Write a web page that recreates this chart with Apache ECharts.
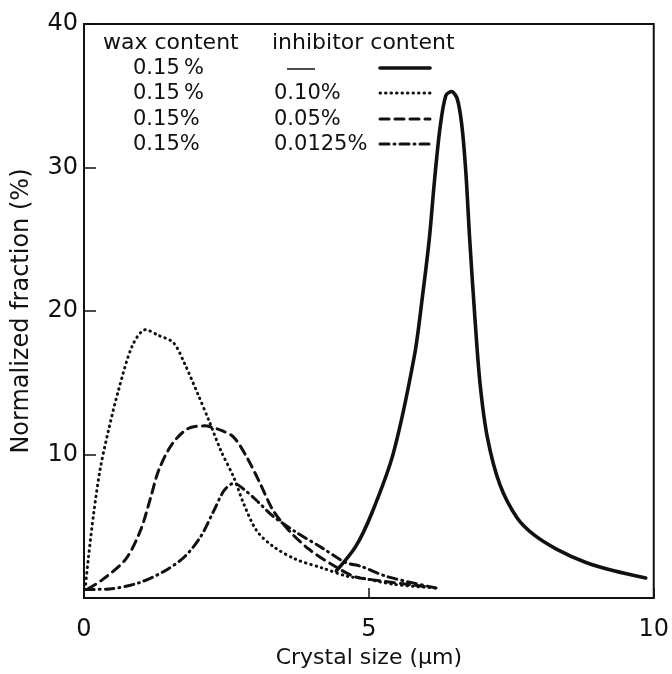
<!DOCTYPE html>
<html>
<head>
<meta charset="utf-8">
<script src="https://cdn.jsdelivr.net/npm/echarts@6/dist/echarts.min.js"></script>
<style>
html,body{margin:0;padding:0;background:#fff;}
#c{width:672px;height:674px;}
</style>
</head>
<body>
<div id="c"></div>
<script>
// Data (x: crystal size in µm, y: normalized fraction in %)
const noInhibitor = [[4.43,1.9],[4.77,3.6],[5.06,6.0],[5.43,10.1],[5.8,16.9],[5.94,21.0],[6.06,25.0],[6.15,29.0],[6.25,32.8],[6.35,35.0],[6.45,35.3],[6.55,34.8],[6.63,33.0],[6.7,29.8],[6.77,25.0],[6.86,19.6],[6.95,15.0],[7.08,11.2],[7.3,7.9],[7.6,5.6],[7.9,4.4],[8.3,3.4],[8.8,2.5],[9.3,1.9],[9.86,1.4]];
const inh010 = [[0.02,0.6],[0.08,2.9],[0.17,5.9],[0.28,8.9],[0.43,11.7],[0.6,14.4],[0.85,17.6],[1.08,18.7],[1.31,18.3],[1.57,17.8],[1.77,16.3],[2.0,14.2],[2.2,12.3],[2.4,10.3],[2.63,8.4],[2.8,6.6],[3.03,4.7],[3.32,3.6],[3.72,2.7],[4.18,2.1],[4.64,1.5],[4.87,1.4],[5.44,0.96],[6.18,0.7]];
const inh005 = [[0.07,0.64],[0.33,1.3],[0.73,2.7],[0.99,4.7],[1.17,7.0],[1.31,8.9],[1.54,10.7],[1.82,11.8],[2.11,12.0],[2.4,11.7],[2.63,11.2],[2.86,9.8],[3.09,8.0],[3.32,6.1],[3.6,4.7],[3.95,3.4],[4.41,2.2],[4.75,1.5],[5.21,1.2],[6.0,0.8]];
const inh00125 = [[0.02,0.6],[0.45,0.64],[0.96,1.06],[1.42,1.9],[1.77,2.9],[2.05,4.3],[2.28,6.1],[2.46,7.5],[2.63,8.0],[2.8,7.6],[3.03,6.8],[3.32,5.7],[3.72,4.6],[4.18,3.5],[4.58,2.5],[4.87,2.2],[5.32,1.5],[6.18,0.7]];
const waxLabels = ['0.15\u2009%','0.15\u2009%','0.15%','0.15%'];
const inhibitorLabels = ['—','0.10%','0.05%','0.0125%'];
const xTicks = [0,5,10];
const yTicks = [10,20,30,40];

const FONT = 'DejaVu Sans';
const chart = echarts.init(document.getElementById('c'));
const dashStyles = ['solid',[0.5,5],[9,6],[9,5,1,5]];
const widths = [3.6,3,3,3];
const seriesData = [noInhibitor,inh010,inh005,inh00125];

// legend table as graphic
const rowY = [70,95,121,146];
const graphics = [];
const hf = '22px "'+FONT+'"';
const lf = '21px "'+FONT+'"';
graphics.push({type:'text',left:103,top:32,style:{text:'wax content',font:hf,fill:'#111'}});
graphics.push({type:'text',left:272,top:32,style:{text:'inhibitor content',font:hf,fill:'#111'}});
waxLabels.forEach((t,i)=>{
  graphics.push({type:'text',left:133,top:rowY[i]-12,style:{text:t,font:lf,fill:'#111'}});
});
inhibitorLabels.forEach((t,i)=>{
  if(i===0){
    graphics.push({type:'line',shape:{x1:287,y1:rowY[i]-1,x2:315,y2:rowY[i]-1},style:{stroke:'#111',lineWidth:1.5}});
  } else {
    graphics.push({type:'text',left:274,top:rowY[i]-12,style:{text:t,font:lf,fill:'#111'}});
  }
  graphics.push({type:'line',shape:{x1:380,y1:rowY[i]-2,x2:430,y2:rowY[i]-2},
    style:{stroke:'#111',lineWidth:widths[i],lineCap:'round',lineDash:dashStyles[i]==='solid'?null:dashStyles[i]}});
});

chart.setOption({
  animation:false,
  backgroundColor:'#fff',
  grid:{left:84,right:7,top:24,bottom:72,show:true,borderColor:'#111',borderWidth:2,backgroundColor:'transparent'},
  xAxis:{type:'value',min:0,max:10,interval:5,
    name:'Crystal size (μm)',nameLocation:'middle',nameGap:36,
    nameTextStyle:{fontFamily:FONT,fontSize:22,color:'#111'},
    axisLine:{lineStyle:{color:'#111',width:2}},
    axisTick:{inside:true,length:10,lineStyle:{color:'#111',width:1.5}},
    axisLabel:{fontFamily:FONT,fontSize:24,color:'#111',margin:20,
      formatter:v=>xTicks.includes(v)?String(v):''},
    splitLine:{show:false}},
  yAxis:{type:'value',min:0,max:40,interval:10,
    name:'Normalized fraction (%)',nameLocation:'middle',nameGap:50,
    nameTextStyle:{fontFamily:FONT,fontSize:24,color:'#111'},
    axisLine:{lineStyle:{color:'#111',width:2}},
    axisTick:{inside:true,length:12,lineStyle:{color:'#111',width:1.5}},
    axisLabel:{fontFamily:FONT,fontSize:24,color:'#111',margin:6,
      formatter:v=>yTicks.includes(v)?String(v):''},
    splitLine:{show:false}},
  graphic:graphics,
  series:seriesData.map((d,i)=>({
    type:'line',data:d,smooth:0.3,showSymbol:false,silent:true,
    lineStyle:{color:'#111',width:widths[i],type:dashStyles[i],cap:'round',join:'round'},
    z:3
  }))
});
</script>
</body>
</html>
